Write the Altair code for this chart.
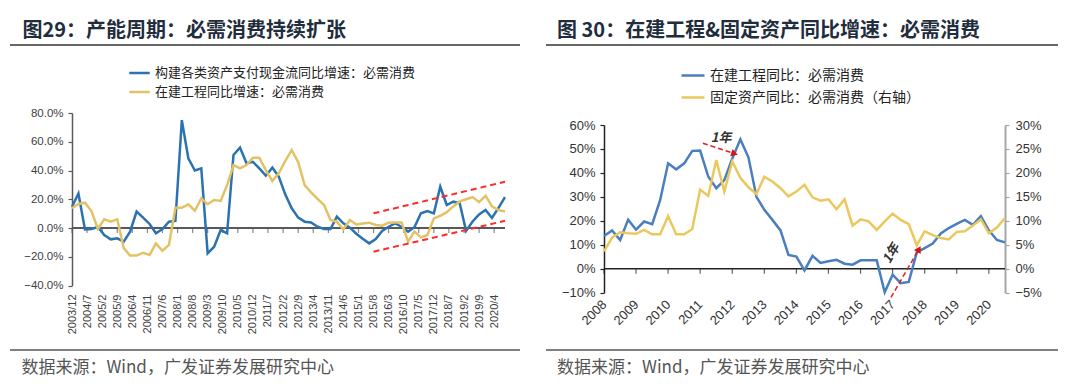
import altair as alt
import pandas as pd

# ---------------- data: left panel (quarterly, 2003/12 - 2020/9) ----------------
left_series = ["构建各类资产支付现金流同比增速：必需消费", "在建工程同比增速：必需消费"]
left_start = "2003-12-01"
left_cashflow = [14.8, 24.0, -1.0, -0.7, 0.7, -4.9, -7.9, -7.2, -9.5, -2.5,
                 11.4, 7.2, 2.8, -3.7, -0.7, 4.4, 4.9, 75.0, 48.5, 40.0,
                 41.5, -17.6, -13.0, -1.4, -3.7, 50.8, 55.9, 45.0, 46.0, 41.5,
                 36.4, 42.0, 35.7, 23.4, 13.7, 7.2, 4.4, 3.9, 0.9, -0.7,
                 -0.7, 7.9, 3.2, 0.2, -4.0, -7.5, -10.7, -7.7, -2.1, 0.9,
                 3.2, 0.9, -2.5, 0.5, 10.2, 11.8, 10.2, 28.7, 16.0, 18.3,
                 17.2, -2.0, 4.5, 9.5, 12.5, 7.0, 14.0, 21.5]
left_cip = [13.7, 16.7, 17.6, 11.8, -0.7, 6.0, 4.4, 6.0, -14.0, -19.2,
            -19.2, -17.2, -18.8, -10.7, -15.8, -11.8, 14.1, 14.1, 16.5, 12.0,
            20.6, 16.5, 19.5, 18.8, 29.9, 43.8, 41.5, 43.8, 48.9, 48.9,
            40.3, 32.7, 38.0, 46.6, 54.3, 45.7, 29.9, 24.8, 20.2, 16.0,
            5.6, 4.4, -1.0, 5.6, 2.5, 3.2, 3.7, 2.1, 1.6, 3.7,
            3.9, 3.9, -9.5, -2.5, -6.5, -4.9, 6.7, 8.5, 11.0, 15.0,
            18.5, 20.0, 21.5, 18.0, 22.5, 15.0, 12.5, 11.5]
left_tick_labels = ["2003/12", "2004/7", "2005/2", "2005/9", "2006/4", "2006/11", "2007/6",
                    "2008/1", "2008/8", "2009/3", "2009/10", "2010/5", "2010/12", "2011/7",
                    "2012/2", "2012/9", "2013/4", "2013/11", "2014/6", "2015/1", "2015/8",
                    "2016/3", "2016/10", "2017/5", "2017/12", "2018/7", "2019/2", "2019/9",
                    "2020/4"]
left_y_ticks = [-40, -20, 0, 20, 40, 60, 80]
left_trend_start = ["2015-08-01", "2015-08-01"]
left_trend_end = ["2020-09-01", "2020-09-01"]
left_trend_v1 = [10.2, -16.5]
left_trend_v2 = [32.2, 5.0]

# ---------------- data: right panel (quarterly, 2008/3 - 2020/9) ----------------
right_series = ["在建工程同比：必需消费", "固定资产同比：必需消费（右轴）"]
right_start = "2008-03-01"
right_cip = [13.7, 16.0, 12.0, 20.5, 16.3, 19.7, 18.6, 28.7, 44.0, 41.5,
             44.0, 49.2, 49.3, 38.5, 33.6, 37.0, 46.0, 54.0, 46.5, 30.0,
             24.6, 20.4, 16.0, 5.8, 5.1, -0.7, 5.4, 2.4, 3.1, 3.7,
             2.1, 1.7, 3.5, 3.5, 3.5, -9.8, -2.5, -6.0, -5.5, 6.8,
             8.6, 10.5, 14.7, 17.0, 18.7, 20.4, 18.3, 22.0, 16.0, 12.0,
             11.0]
right_fa = [3.6, 6.5, 7.6, 7.4, 7.3, 8.1, 7.2, 7.2, 11.0, 7.2,
            7.2, 8.3, 16.5, 15.2, 22.7, 16.1, 22.4, 19.0, 17.0, 15.6,
            19.2, 18.2, 16.8, 15.1, 16.1, 17.5, 14.9, 14.2, 14.5, 12.4,
            14.5, 9.0, 10.3, 9.9, 8.1, 9.9, 11.5, 10.2, 9.3, 4.9,
            7.8, 7.0, 6.4, 6.1, 7.7, 7.8, 9.0, 10.3, 7.4, 8.6,
            10.6]
right_years = ["2008", "2009", "2010", "2011", "2012", "2013", "2014",
               "2015", "2016", "2017", "2018", "2019", "2020"]
right_y_left_ticks = [-10, 0, 10, 20, 30, 40, 50, 60]
right_y_right_ticks = [-5, 0, 5, 10, 15, 20, 25, 30]
arrow_start = ["2011-04-01", "2017-02-10"]
arrow_end = ["2012-03-15", "2017-12-20"]
arrow_v1 = [52.4, -12.0]
arrow_v2 = [48.2, 7.8]
note_text = "1年"
note_dates = ["2011-10-25", "2017-02-15"]
note_values = [54.6, 6.3]

titles = ["图29：产能周期：必需消费持续扩张", "图 30：在建工程&固定资产同比增速：必需消费"]
source = "数据来源：Wind，广发证券发展研究中心"

# ---------------- styles ----------------
CJK = "Noto Sans CJK SC"
LAT = "Liberation Sans"
L_BLUE, L_YEL = "#2b72b0", "#e3c266"
R_BLUE, R_YEL = "#4a7ebf", "#ebc75c"
RED = "#ff2a2a"
H = 377


def ym(s, sep="/"):
    y, m = s.split(sep)[:2]
    return alt.DateTime(year=int(y), month=int(m), date=1)


# ---------------- tables ----------------
ldates = pd.date_range(left_start, periods=len(left_cashflow), freq="3MS")
left_a = pd.DataFrame({"date": ldates, "value": left_cashflow, "series": left_series[0]})
left_b = pd.DataFrame({"date": ldates, "value": left_cip, "series": left_series[1]})
left_zero = pd.DataFrame({"date": [ldates[0]], "date2": [ldates[-1]], "value": [0.0]})
left_tk = pd.DataFrame({"date": [pd.Timestamp(int(s.split("/")[0]), int(s.split("/")[1]), 1) for s in left_tick_labels],
                        "value": 0.0})
left_tr = pd.DataFrame({"date": pd.to_datetime(left_trend_start), "date2": pd.to_datetime(left_trend_end),
                        "value": left_trend_v1, "value2": left_trend_v2})

rdates = pd.date_range(right_start, periods=len(right_cip), freq="3MS")
right_a = pd.DataFrame({"date": rdates, "value": right_cip, "series": right_series[0]})
right_b = pd.DataFrame({"date": rdates, "value": right_fa, "series": right_series[1]})
right_zero = pd.DataFrame({"date": [rdates[0]], "date2": [rdates[-1]], "value": [0.0]})
right_tk = pd.DataFrame({"date": [pd.Timestamp(int(y), 3, 1) for y in right_years], "value": 0.0})
right_ar = pd.DataFrame({"date": pd.to_datetime(arrow_start), "date2": pd.to_datetime(arrow_end),
                         "value": arrow_v1, "value2": arrow_v2})
right_note = pd.DataFrame({"date": pd.to_datetime(note_dates), "value": note_values})

# ---------------- left panel ----------------
LX = alt.Scale(domain=[ym("2003/12"), ym("2020/9")], range=[64, 497])
LY = alt.Scale(domain=[-40, 80], range=[277.5, 105])
lx_axis = alt.Axis(values=[ym(s) for s in left_tick_labels], format="%Y/%-m", orient="bottom",
                   offset=286 - H, labelAngle=-90, labelAlign="right", labelBaseline="middle",
                   domain=False, ticks=False, tickSize=0, labelPadding=0, labelFlush=False,
                   labelOverlap=False, grid=False, title=None, labelFont=LAT, labelFontSize=11,
                   labelColor="#404040")
ly_axis = alt.Axis(values=left_y_ticks, labelExpr="format(datum.value, '.1f') + '%'", orient="left",
                   offset=-64, domainColor="#595959", domainWidth=1.5, tickColor="#595959",
                   tickSize=4, tickWidth=1.2, labelPadding=5, labelFont=LAT, labelFontSize=11.5,
                   labelColor="#404040", grid=False, title=None)
l_color = alt.Color("series:N", scale=alt.Scale(domain=left_series, range=[L_BLUE, L_YEL]),
                    legend=alt.Legend(orient="none", legendX=120, legendY=53.5, title=None,
                                      symbolType="stroke", symbolSize=420, symbolStrokeWidth=2.5,
                                      labelFont=CJK, labelFontSize=13, labelColor="#222222",
                                      labelLimit=400, labelOffset=4, rowPadding=0, padding=0))
lx = alt.X("date:T", scale=LX, axis=lx_axis)
ly = alt.Y("value:Q", scale=LY, axis=ly_axis)

left_chart = alt.layer(
    alt.Chart(left_zero).mark_rule(color="#595959", strokeWidth=2).encode(x=lx, x2="date2:T", y=ly),
    alt.Chart(left_tk).mark_tick(orient="vertical", size=5, thickness=1.2, yOffset=2.5,
                                 color="#595959").encode(x=lx, y=ly),
    alt.Chart(left_a).mark_line(strokeWidth=2.5).encode(x=lx, y=ly, color=l_color),
    alt.Chart(left_b).mark_line(strokeWidth=2.5).encode(x=lx, y=ly, color=l_color),
    alt.Chart(left_tr).mark_rule(color=RED, strokeWidth=2, strokeDash=[6, 4]).encode(
        x=lx, x2="date2:T", y=ly, y2="value2:Q"),
)

# ---------------- right panel ----------------
RX = alt.Scale(domain=[ym("2008/3"), ym("2020/9")], range=[596, 997])
RYL = alt.Scale(domain=[-10, 60], range=[284.7, 117])
RYR = alt.Scale(domain=[-5, 30], range=[284.7, 117])
rx_axis = alt.Axis(values=[alt.DateTime(year=int(y), month=3, date=1) for y in right_years], format="%Y",
                   orient="bottom", offset=294 - H, labelAngle=-45, labelAlign="right", labelBaseline="middle",
                   domain=False, ticks=False, tickSize=0, labelPadding=0, labelFlush=False,
                   labelOverlap=False, grid=False, title=None, labelFont=LAT, labelFontSize=13,
                   labelColor="#333333")
ryl_axis = alt.Axis(values=right_y_left_ticks, labelExpr="format(datum.value, 'd') + '%'", orient="left",
                    offset=-596, domainColor="#222222", domainWidth=1.5, tickColor="#222222",
                    tickSize=4, tickWidth=1.2, labelPadding=5, labelFont=LAT, labelFontSize=13,
                    labelColor="#333333", grid=False, title=None)
ryr_axis = alt.Axis(values=right_y_right_ticks, labelExpr="format(datum.value, 'd') + '%'", orient="right",
                    offset=-67, domainColor="#a6a6a6", domainWidth=2, tickColor="#a6a6a6",
                    tickSize=4, tickWidth=1.2, labelPadding=6, labelFont=LAT, labelFontSize=13,
                    labelColor="#333333", grid=False, title=None)
r_color = alt.Color("series:N", scale=alt.Scale(domain=right_series, range=[R_BLUE, R_YEL]),
                    legend=alt.Legend(orient="none", legendX=672, legendY=54.5, title=None,
                                      symbolType="stroke", symbolSize=529, symbolStrokeWidth=2.5,
                                      labelFont=CJK, labelFontSize=14, labelColor="#222222",
                                      labelLimit=400, labelOffset=4, rowPadding=2, padding=0))
rx = alt.X("date:T", scale=RX, axis=rx_axis)
ryl = alt.Y("value:Q", scale=RYL, axis=ryl_axis)
ryr = alt.Y("value:Q", scale=RYR, axis=ryr_axis)

right_left = alt.layer(
    alt.Chart(right_zero).mark_rule(color="#222222", strokeWidth=1.5).encode(x=rx, x2="date2:T", y=ryl),
    alt.Chart(right_tk).mark_tick(orient="vertical", size=5, thickness=1.2, yOffset=2.5,
                                  color="#222222").encode(x=rx, y=ryl),
    alt.Chart(right_a).mark_line(strokeWidth=2.5).encode(x=rx, y=ryl, color=r_color),
    alt.Chart(right_ar).mark_rule(color="#e02020", strokeWidth=1.5, strokeDash=[5, 3]).encode(
        x=rx, x2="date2:T", y=ryl, y2="value2:Q"),
    alt.Chart(right_ar.iloc[[0]]).mark_point(shape="triangle", angle=108, size=60, filled=True,
                                             color="#d01818", opacity=1).encode(
        x=alt.X("date2:T", scale=RX, axis=rx_axis), y=alt.Y("value2:Q", scale=RYL, axis=ryl_axis)),
    alt.Chart(right_ar.iloc[[1]]).mark_point(shape="triangle", angle=30, size=60, filled=True,
                                             color="#d01818", opacity=1).encode(
        x=alt.X("date2:T", scale=RX, axis=rx_axis), y=alt.Y("value2:Q", scale=RYL, axis=ryl_axis)),
    alt.Chart(right_note.iloc[[0]]).mark_text(text=note_text, fontSize=13, fontWeight="bold",
                                              fontStyle="italic", font=CJK, color="#333333").encode(
        x=rx, y=ryl),
    alt.Chart(right_note.iloc[[1]]).mark_text(text=note_text, fontSize=13, fontWeight="bold",
                                              fontStyle="italic", font=CJK, color="#333333",
                                              angle=300).encode(x=rx, y=ryl),
)
right_right = alt.layer(
    alt.Chart(right_b).mark_line(strokeWidth=2.5).encode(x=rx, y=ryr, color=r_color),
)
right_chart = alt.layer(right_left, right_right).resolve_scale(y="independent")

# ---------------- panel decorations ----------------
one = pd.DataFrame({"k": [0]})


def label(text, x, y, size, color, weight="normal"):
    return alt.Chart(one).mark_text(text=text, align="left", baseline="middle", fontSize=size,
                                    color=color, fontWeight=weight, font=CJK).encode(
        x=alt.value(x), y=alt.value(y))


def hline(x1, x2, y, color, width):
    return alt.Chart(one).mark_rule(color=color, strokeWidth=width).encode(
        x=alt.value(x1), x2=alt.value(x2), y=alt.value(y))


decor = [
    label(titles[0], 14.5, 23, 20, "#1f2d3d", "bold"),
    label(titles[1], 549, 23, 20, "#1f2d3d", "bold"),
    hline(2, 512, 37, "#333333", 1.5),
    hline(538, 1050, 37, "#333333", 1.5),
    hline(2, 512, 342, "#555555", 1.5),
    hline(538, 1050, 342, "#555555", 1.5),
    label(source, 13.4, 360, 17, "#555555"),
    label(source, 549, 360, 17, "#555555"),
]

chart = alt.layer(left_chart, right_chart, *decor).resolve_scale(
    x="independent", y="independent", color="independent"
).properties(
    width=1064, height=H, padding=0, autosize=alt.AutoSizeParams(type="none"), background="white"
).configure_view(stroke=None)

chart.save("out.html", embed_options={"renderer": "svg", "actions": False})
